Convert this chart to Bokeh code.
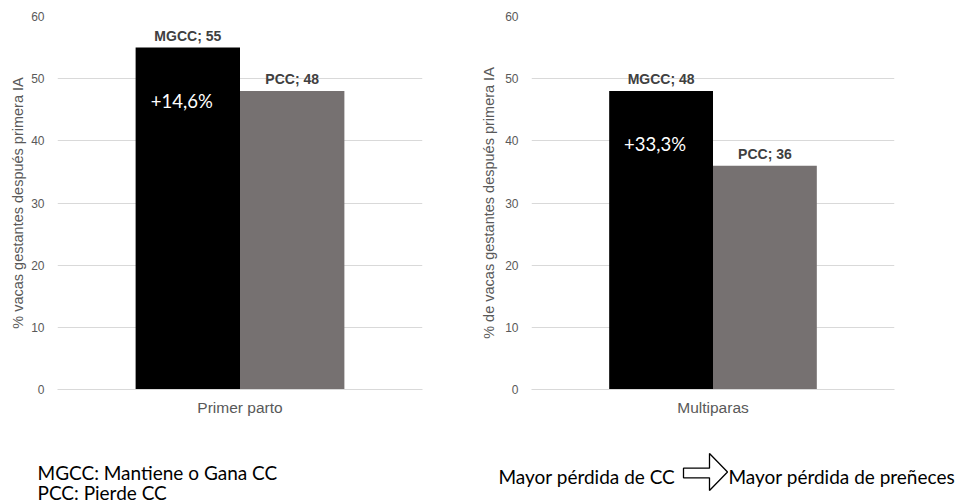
from bokeh.plotting import figure
from bokeh.layouts import column, row
from bokeh.models import ColumnDataSource, FactorRange, Range1d
from bokeh.transform import dodge
from bokeh.core.properties import value
from bokeh.embed import file_html
from bokeh.resources import INLINE

# Data: % of cows pregnant after first AI, by body-condition change
groups = ["Primer parto", "Multiparas"]
series = ["MGCC", "PCC"]
mgcc = [55, 48]
pcc = [48, 36]
increase = ["+14,6%", "+33,3%"]
y_titles = [
    "% vacas gestantes después primera IA",
    "% de vacas gestantes después primera IA",
]
y_ticks = [0, 10, 20, 30, 40, 50, 60]

legend_lines = ["MGCC: Mantiene o Gana CC", "PCC: Pierde CC"]
note_left = "Mayor pérdida de CC"
note_right = "Mayor pérdida de preñeces"

BLACK = "#000000"
GREY = "#767171"
TICK = "#595959"
LABEL = "#404040"
AX_FONT = "Liberation Sans"
NOTE_FONT = "Lato"

BAR_W = 0.286
HALF = BAR_W / 2


def panel(i, width, border_left, border_right, label_standoff):
    cat = groups[i]
    p = figure(
        width=width, height=420,
        x_range=FactorRange(factors=[cat]),
        y_range=Range1d(0, 60),
        output_backend="svg", toolbar_location=None,
        min_border_left=border_left, min_border_right=border_right,
        min_border_top=16, min_border_bottom=31,
    )
    p.outline_line_color = None
    p.background_fill_color = "white"
    p.border_fill_color = "white"

    src = ColumnDataSource(dict(
        x=[cat], mgcc=[mgcc[i]], pcc=[pcc[i]],
        mgcc_lbl=[f"{series[0]}; {mgcc[i]}"],
        pcc_lbl=[f"{series[1]}; {pcc[i]}"],
        inc=[increase[i]],
    ))

    p.vbar(x=dodge("x", -HALF, range=p.x_range), top="mgcc", width=BAR_W,
           source=src, fill_color=BLACK, line_color=None)
    p.vbar(x=dodge("x", HALF, range=p.x_range), top="pcc", width=BAR_W,
           source=src, fill_color=GREY, line_color=None)

    # value labels above the bars
    p.text(x=dodge("x", -HALF, range=p.x_range), y="mgcc", text="mgcc_lbl",
           source=src, text_align="center", text_baseline="middle",
           y_offset=-12, text_font=value(AX_FONT), text_font_style="bold",
           text_font_size="14px", text_color=LABEL)
    p.text(x=dodge("x", HALF, range=p.x_range), y="pcc", text="pcc_lbl",
           source=src, text_align="center", text_baseline="middle",
           y_offset=-12, text_font=value(AX_FONT), text_font_style="bold",
           text_font_size="14px", text_color=LABEL)

    # relative increase, written inside the black bar
    p.text(x=dodge("x", -HALF, range=p.x_range), y="mgcc", text="inc",
           source=src, text_align="center", text_baseline="middle",
           x_offset=-6, y_offset=53, text_font=value(NOTE_FONT),
           text_font_size="18.5px", text_color="white")

    p.xgrid.grid_line_color = None
    p.ygrid.grid_line_color = "#d9d9d9"
    p.ygrid.grid_line_width = 1
    p.yaxis.ticker = y_ticks

    p.yaxis.axis_line_color = None
    p.yaxis.major_tick_line_color = None
    p.yaxis.minor_tick_line_color = None
    p.yaxis.major_tick_out = 0
    p.yaxis.major_label_standoff = 13
    p.yaxis.major_label_text_font = AX_FONT
    p.yaxis.major_label_text_font_size = "12px"
    p.yaxis.major_label_text_color = TICK
    p.yaxis.axis_label = y_titles[i]
    p.yaxis.axis_label_text_font = AX_FONT
    p.yaxis.axis_label_text_font_size = "14.5px"
    p.yaxis.axis_label_text_font_style = "normal"
    p.yaxis.axis_label_text_color = TICK
    p.yaxis.axis_label_standoff = label_standoff

    p.xaxis.axis_line_color = "#d9d9d9"
    p.xaxis.major_tick_line_color = None
    p.xaxis.minor_tick_line_color = None
    p.xaxis.major_tick_out = 0
    p.xaxis.major_label_standoff = 9
    p.xaxis.major_label_text_font = AX_FONT
    p.xaxis.major_label_text_font_size = "15.5px"
    p.xaxis.major_label_text_color = TICK
    return p


p1 = panel(0, 478, 57, 56, 2)
p2 = panel(1, 486, 51, 70, 5)

# footer with the abbreviations and the cause -> effect note
p3 = figure(width=964, height=84, x_range=Range1d(0, 964), y_range=Range1d(84, 0),
            output_backend="svg", toolbar_location=None,
            min_border=0, min_border_left=0, min_border_right=0,
            min_border_top=0, min_border_bottom=0)
p3.axis.visible = False
p3.grid.visible = False
p3.outline_line_color = None
p3.background_fill_color = "white"
p3.border_fill_color = "white"

NOTE_SIZE = "19px"
p3.text(x=[37, 37], y=[52, 72], text=legend_lines, text_align="left",
        text_baseline="alphabetic", text_font=value(NOTE_FONT),
        text_font_size=NOTE_SIZE, text_color="#000000")
p3.text(x=[498], y=[56], text=[note_left], text_align="left",
        text_baseline="alphabetic", text_font=value(NOTE_FONT),
        text_font_size=NOTE_SIZE, text_color="#000000")
p3.text(x=[728], y=[56], text=[note_right], text_align="left",
        text_baseline="alphabetic", text_font=value(NOTE_FONT),
        text_font_size=NOTE_SIZE, text_color="#000000")

# block arrow between the two phrases
p3.patch(x=[683, 709, 709, 727, 709, 709, 683],
         y=[47.7, 47.7, 33, 51.5, 70, 57.3, 57.3],
         fill_color="white", line_color="#000000", line_width=1.3)

layout = column(row(p1, p2), p3)
open("out.html", "w").write(file_html(layout, INLINE))
